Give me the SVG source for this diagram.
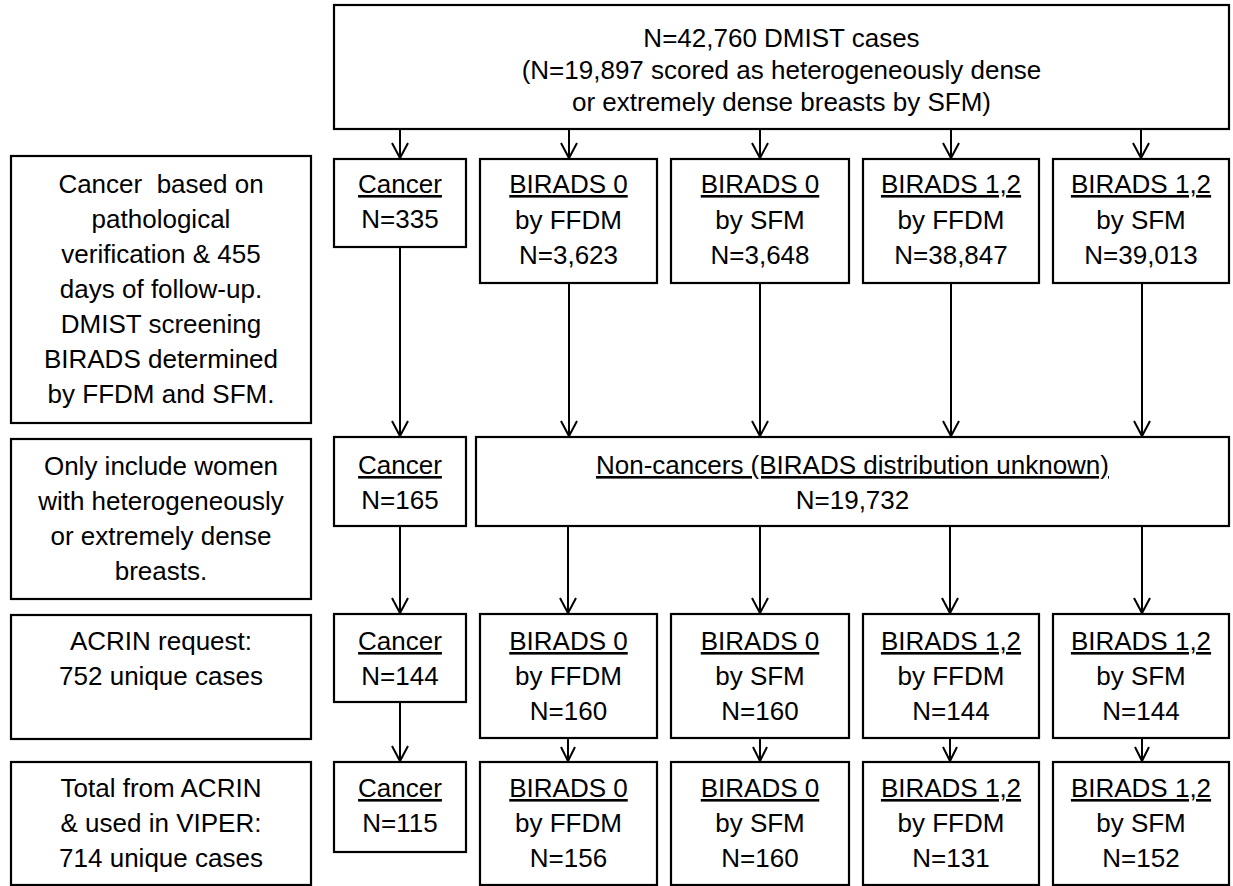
<svg xmlns="http://www.w3.org/2000/svg" width="1233" height="886" viewBox="0 0 1233 886">
<style>
rect.b{fill:#fff;stroke:#000;stroke-width:2.2}
text{font-family:"Liberation Sans",Arial,sans-serif;font-size:26px;fill:#000;text-anchor:middle}
.u{text-decoration:underline}
.c line{stroke:#000;stroke-width:2}
.c polyline{fill:none;stroke:#000;stroke-width:2}
</style>
<rect width="1233" height="886" fill="#fff"/>
<g id="connectors" class="c">
<line x1="400" y1="129" x2="400" y2="158"/><polyline points="392,143 400,158 408,143"/>
<line x1="569" y1="129" x2="569" y2="158"/><polyline points="561,143 569,158 577,143"/>
<line x1="760" y1="129" x2="760" y2="158"/><polyline points="752,143 760,158 768,143"/>
<line x1="951" y1="129" x2="951" y2="158"/><polyline points="943,143 951,158 959,143"/>
<line x1="1141" y1="129" x2="1141" y2="158"/><polyline points="1133,143 1141,158 1149,143"/>
<line x1="400" y1="247" x2="400" y2="436"/><polyline points="392,421 400,436 408,421"/>
<line x1="569" y1="283" x2="569" y2="436"/><polyline points="561,421 569,436 577,421"/>
<line x1="760" y1="283" x2="760" y2="436"/><polyline points="752,421 760,436 768,421"/>
<line x1="951" y1="283" x2="951" y2="436"/><polyline points="943,421 951,436 959,421"/>
<line x1="1142" y1="283" x2="1142" y2="436"/><polyline points="1134,421 1142,436 1150,421"/>
<line x1="400" y1="526" x2="400" y2="613"/><polyline points="392,598 400,613 408,598"/>
<line x1="568" y1="526" x2="568" y2="613"/><polyline points="560,598 568,613 576,598"/>
<line x1="760" y1="526" x2="760" y2="613"/><polyline points="752,598 760,613 768,598"/>
<line x1="950" y1="526" x2="950" y2="613"/><polyline points="942,598 950,613 958,598"/>
<line x1="1142" y1="526" x2="1142" y2="613"/><polyline points="1134,598 1142,613 1150,598"/>
<line x1="400" y1="702" x2="400" y2="761"/><polyline points="392,746 400,761 408,746"/>
<line x1="568" y1="738" x2="568" y2="761"/><polyline points="561,747 568,761 575,747"/>
<line x1="760" y1="738" x2="760" y2="761"/><polyline points="753,747 760,761 767,747"/>
<line x1="950" y1="738" x2="950" y2="761"/><polyline points="943,747 950,761 957,747"/>
<line x1="1142" y1="738" x2="1142" y2="761"/><polyline points="1135,747 1142,761 1149,747"/>
</g>
<g id="top">
<rect class="b" x="334" y="5" width="895" height="124"/>
<text x="781.5" y="47">N=42,760 DMIST cases</text>
<text x="781.5" y="79">(N=19,897 scored as heterogeneously dense</text>
<text x="781.5" y="111">or extremely dense breasts by SFM)</text>
</g>
<g id="left1">
<rect class="b" x="11" y="156" width="300" height="267"/>
<text x="161" y="193" xml:space="preserve">Cancer  based on</text>
<text x="161" y="228">pathological</text>
<text x="161" y="263">verification &amp; 455</text>
<text x="161" y="298">days of follow-up.</text>
<text x="161" y="333">DMIST screening</text>
<text x="161" y="368">BIRADS determined</text>
<text x="161" y="403">by FFDM and SFM.</text>
</g>
<g id="left2">
<rect class="b" x="11" y="439" width="300" height="160"/>
<text x="161" y="475">Only include women</text>
<text x="161" y="510">with heterogeneously</text>
<text x="161" y="545">or extremely dense</text>
<text x="161" y="580">breasts.</text>
</g>
<g id="left3">
<rect class="b" x="11" y="615" width="300" height="124"/>
<text x="161" y="650">ACRIN request:</text>
<text x="161" y="685">752 unique cases</text>
</g>
<g id="left4">
<rect class="b" x="11" y="762" width="300" height="123"/>
<text x="161" y="797">Total from ACRIN</text>
<text x="161" y="832">&amp; used in VIPER:</text>
<text x="161" y="867">714 unique cases</text>
</g>
<g id="cancer1">
<rect class="b" x="334" y="159" width="132" height="88"/>
<text x="400" y="193" class="u">Cancer</text>
<text x="400" y="228">N=335</text>
</g>
<g id="b0f1">
<rect class="b" x="480" y="159" width="177" height="124"/>
<text x="568.5" y="193" class="u">BIRADS 0</text>
<text x="568.5" y="229">by FFDM</text>
<text x="568.5" y="264">N=3,623</text>
</g>
<g id="b0s1">
<rect class="b" x="671" y="159" width="178" height="124"/>
<text x="760" y="193" class="u">BIRADS 0</text>
<text x="760" y="229">by SFM</text>
<text x="760" y="264">N=3,648</text>
</g>
<g id="b12f1">
<rect class="b" x="863" y="159" width="176" height="124"/>
<text x="951" y="193" class="u">BIRADS 1,2</text>
<text x="951" y="229">by FFDM</text>
<text x="951" y="264">N=38,847</text>
</g>
<g id="b12s1">
<rect class="b" x="1053" y="159" width="176" height="124"/>
<text x="1141" y="193" class="u">BIRADS 1,2</text>
<text x="1141" y="229">by SFM</text>
<text x="1141" y="264">N=39,013</text>
</g>
<g id="cancer2">
<rect class="b" x="334" y="437" width="132" height="89"/>
<text x="400" y="474" class="u">Cancer</text>
<text x="400" y="509">N=165</text>
</g>
<g id="noncancer">
<rect class="b" x="476" y="437" width="753" height="89"/>
<text x="852.5" y="474" class="u">Non-cancers (BIRADS distribution unknown)</text>
<text x="852.5" y="509">N=19,732</text>
</g>
<g id="cancer3">
<rect class="b" x="334" y="614" width="132" height="88"/>
<text x="400" y="650" class="u">Cancer</text>
<text x="400" y="685">N=144</text>
</g>
<g id="b0f2">
<rect class="b" x="480" y="614" width="177" height="124"/>
<text x="568.5" y="650" class="u">BIRADS 0</text>
<text x="568.5" y="685">by FFDM</text>
<text x="568.5" y="720">N=160</text>
</g>
<g id="b0s2">
<rect class="b" x="671" y="614" width="178" height="124"/>
<text x="760" y="650" class="u">BIRADS 0</text>
<text x="760" y="685">by SFM</text>
<text x="760" y="720">N=160</text>
</g>
<g id="b12f2">
<rect class="b" x="863" y="614" width="176" height="124"/>
<text x="951" y="650" class="u">BIRADS 1,2</text>
<text x="951" y="685">by FFDM</text>
<text x="951" y="720">N=144</text>
</g>
<g id="b12s2">
<rect class="b" x="1053" y="614" width="176" height="124"/>
<text x="1141" y="650" class="u">BIRADS 1,2</text>
<text x="1141" y="685">by SFM</text>
<text x="1141" y="720">N=144</text>
</g>
<g id="cancer4">
<rect class="b" x="334" y="762" width="132" height="90"/>
<text x="400" y="797" class="u">Cancer</text>
<text x="400" y="832">N=115</text>
</g>
<g id="b0f3">
<rect class="b" x="480" y="762" width="177" height="123"/>
<text x="568.5" y="797" class="u">BIRADS 0</text>
<text x="568.5" y="832">by FFDM</text>
<text x="568.5" y="867">N=156</text>
</g>
<g id="b0s3">
<rect class="b" x="671" y="762" width="178" height="123"/>
<text x="760" y="797" class="u">BIRADS 0</text>
<text x="760" y="832">by SFM</text>
<text x="760" y="867">N=160</text>
</g>
<g id="b12f3">
<rect class="b" x="863" y="762" width="176" height="123"/>
<text x="951" y="797" class="u">BIRADS 1,2</text>
<text x="951" y="832">by FFDM</text>
<text x="951" y="867">N=131</text>
</g>
<g id="b12s3">
<rect class="b" x="1053" y="762" width="176" height="123"/>
<text x="1141" y="797" class="u">BIRADS 1,2</text>
<text x="1141" y="832">by SFM</text>
<text x="1141" y="867">N=152</text>
</g>
</svg>
